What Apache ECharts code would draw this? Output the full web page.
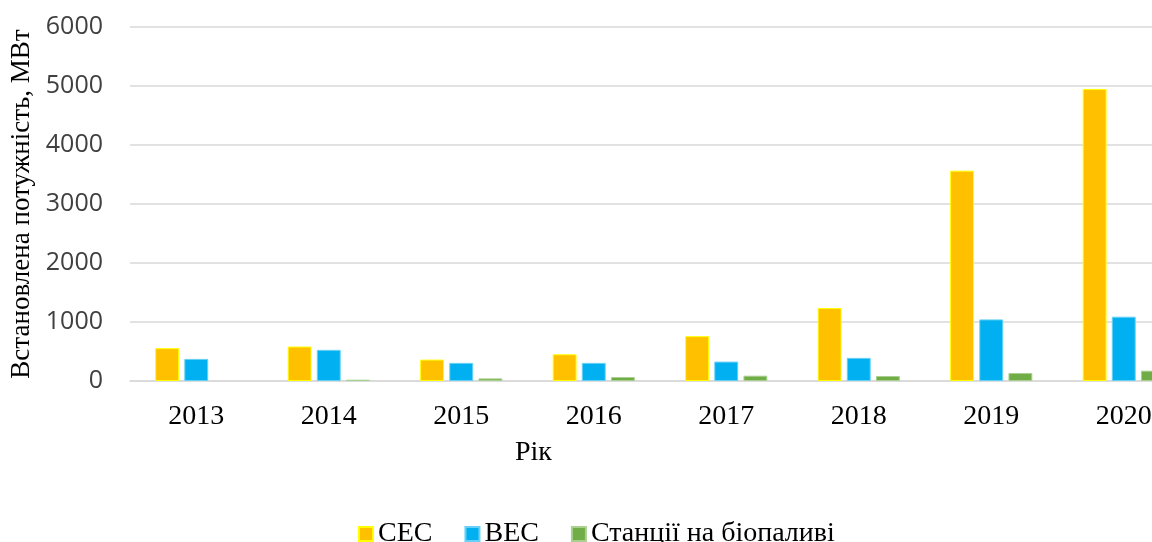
<!DOCTYPE html>
<html>
<head>
<meta charset="utf-8">
<script src="https://cdn.jsdelivr.net/npm/echarts@6/dist/echarts.min.js"></script>
<style>
html,body{margin:0;padding:0;background:#fff;}
#chart{width:1152px;height:542px;}
</style>
</head>
<body>
<div id="chart"></div>
<script>
var years = ['2013','2014','2015','2016','2017','2018','2019','2020'];
var sesValues = [557, 584, 363, 453, 760, 1237, 3565, 4950];
var vesValues = [375, 528, 307, 307, 329, 392, 1044, 1090];
var bioValues = [0, 22, 44, 68, 90, 85, 136, 175];
var yTicks = [0, 1000, 2000, 3000, 4000, 5000, 6000];
var seriesNames = ['СЕС', 'ВЕС', 'Станції на біопаливі'];
var yAxisTitle = 'Встановлена потужність, МВт';
var xAxisTitle = 'Рік';

var chart = echarts.init(document.getElementById('chart'), null, {renderer:'canvas'});
var serif = '"Liberation Serif", "Times New Roman", serif';
var sans = '"Open Sans", "Liberation Sans", sans-serif';

function barData(arr) {
  return arr.map(function (v) {
    return v === 0 ? { value: v, itemStyle: { borderWidth: 0, opacity: 0 } } : v;
  });
}

chart.setOption({
  animation: false,
  backgroundColor: '#ffffff',
  grid: { left: 130, top: 27, width: 1060, height: 354, containLabel: false, outerBoundsMode: 'none' },
  legend: {
    data: seriesNames,
    left: 353,
    top: 515,
    itemWidth: 14, itemHeight: 14,
    itemGap: 32,
    icon: 'rect',
    textStyle: { fontFamily: serif, fontSize: 28, color: '#000' }
  },
  xAxis: {
    type: 'category',
    data: years,
    axisLine: { show: true, lineStyle: { color: '#d9d9d9', width: 1.5 } },
    axisTick: { show: false },
    axisLabel: { fontFamily: serif, fontSize: 28, color: '#000', margin: 22 }
  },
  yAxis: {
    type: 'value',
    min: yTicks[0], max: yTicks[yTicks.length-1], interval: 1000,
    name: yAxisTitle,
    nameLocation: 'middle',
    nameGap: 91,
    nameRotate: 90,
    nameTextStyle: { fontFamily: serif, fontSize: 27, color: '#000' },
    axisLine: { show: false },
    axisTick: { show: false },
    splitLine: { lineStyle: { color: '#d9d9d9', width: 1.5 } },
    axisLabel: { fontFamily: sans, fontSize: 25, color: '#404040', margin: 27,
      formatter: function (v) { return String(v); } }
  },
  graphic: [{
    type: 'text',
    left: 515, top: 439,
    style: { text: xAxisTitle, font: '28px ' + serif, fill: '#000' }
  }],
  series: [
    { name: seriesNames[0], type: 'bar', data: barData(sesValues), barGap: '22%', barCategoryGap: '38%',
      itemStyle: { color: '#FFC000', borderColor: '#FFFF00', borderWidth: 1 } },
    { name: seriesNames[1], type: 'bar', data: barData(vesValues),
      itemStyle: { color: '#00B0F0', borderColor: '#66D0F6', borderWidth: 1 } },
    { name: seriesNames[2], type: 'bar', data: barData(bioValues),
      itemStyle: { color: '#70AD47', borderColor: '#A9D08E', borderWidth: 1 } }
  ]
});
</script>
</body>
</html>
